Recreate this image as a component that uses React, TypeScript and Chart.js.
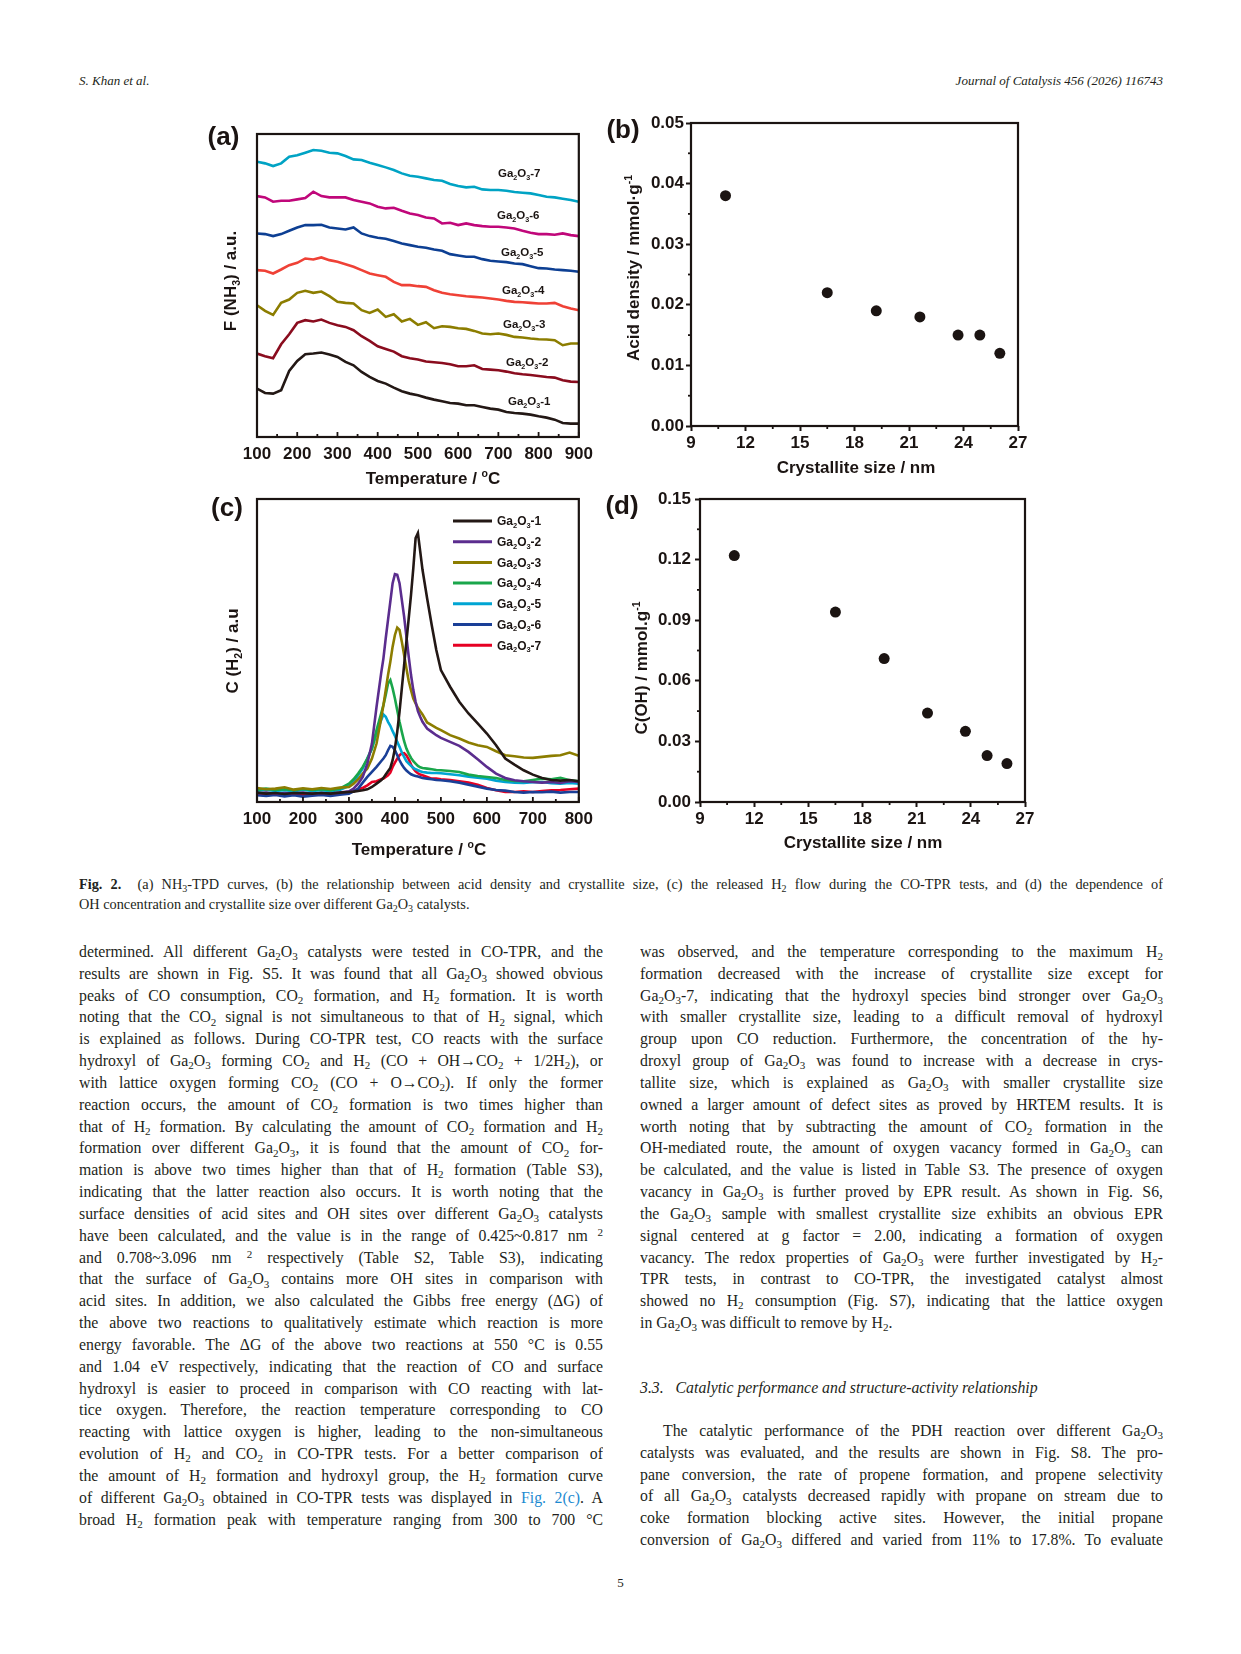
import React, { useEffect, useRef } from 'react';
import { Chart, registerables } from 'chart.js';

Chart.register(...registerables);

// ----------------------------------------------------------------- data ----
const sampleNames = [
  'Ga_{2}O_{3}-1', 'Ga_{2}O_{3}-2', 'Ga_{2}O_{3}-3', 'Ga_{2}O_{3}-4',
  'Ga_{2}O_{3}-5', 'Ga_{2}O_{3}-6', 'Ga_{2}O_{3}-7',
];

// (a) NH3-TPD, temperature (°C) and signal (a.u.)
const tpdTemps = [100, 120, 140, 160, 180, 200, 220, 240, 260, 280, 300, 320, 340, 360, 380, 400, 420, 440, 460, 480, 500,
  520, 540, 560, 580, 600, 620, 640, 660, 680, 700, 720, 740, 760, 780, 800, 820, 840, 860, 880, 900];
const tpdGa1 = [145, 132, 130, 140, 198, 228, 248, 250, 253, 247, 240, 225, 215, 195, 180, 168, 160, 148, 137, 130, 125,
  118, 112, 107, 102, 100, 95, 95, 90, 85, 82, 75, 72, 70, 67, 62, 58, 52, 42, 40, 40];
const tpdGa2 = [250, 242, 236, 278, 308, 342, 350, 346, 352, 342, 335, 330, 320, 302, 288, 272, 264, 256, 242, 236, 232,
  226, 224, 222, 218, 212, 212, 215, 204, 202, 200, 196, 191, 188, 186, 183, 180, 178, 170, 166, 165];
const tpdGa3 = [395, 378, 366, 402, 412, 432, 438, 432, 436, 422, 405, 402, 400, 380, 372, 382, 360, 368, 346, 354, 336,
  344, 326, 332, 330, 326, 324, 318, 310, 308, 310, 306, 300, 298, 295, 293, 292, 290, 275, 280, 280];
const tpdGa4 = [500, 498, 490, 502, 515, 522, 535, 532, 538, 530, 525, 518, 510, 500, 490, 485, 480, 465, 455, 455, 452,
  450, 440, 432, 428, 425, 422, 420, 418, 415, 412, 408, 405, 404, 402, 400, 400, 402, 392, 385, 380];
const tpdGa5 = [610, 608, 602, 608, 618, 628, 635, 635, 636, 628, 625, 622, 628, 610, 602, 597, 594, 587, 580, 575, 570,
  567, 562, 558, 548, 544, 540, 540, 533, 528, 526, 524, 520, 518, 512, 506, 505, 502, 500, 498, 495];
const tpdGa6 = [722, 718, 705, 708, 708, 712, 716, 735, 722, 718, 718, 718, 710, 705, 700, 690, 685, 687, 678, 670, 665,
  658, 655, 640, 642, 635, 640, 635, 632, 630, 630, 628, 625, 618, 612, 608, 608, 606, 610, 605, 602];
const tpdGa7 = [825, 820, 812, 820, 840, 844, 852, 860, 858, 852, 850, 842, 832, 830, 822, 815, 808, 800, 790, 783, 780,
  775, 770, 768, 758, 752, 748, 750, 742, 740, 740, 738, 734, 732, 730, 725, 720, 718, 714, 710, 705];

// (b) / (d) crystallite size (nm), acid density and OH concentration (mmol/g)
const crystalliteSize = [10.9, 16.5, 19.2, 21.6, 23.7, 24.9, 26.0];
const acidDensity = [0.038, 0.022, 0.019, 0.018, 0.015, 0.015, 0.012];
const ohConcentration = [0.122, 0.094, 0.071, 0.044, 0.035, 0.023, 0.019];

// (c) CO-TPR H2 signal, temperature (°C) and signal (a.u.)
const tprTemps = [100, 120, 140, 160, 180, 200, 220, 240, 260, 280, 300, 310, 320, 330, 340, 350, 360, 370, 375, 380,
  385, 390, 395, 400, 405, 410, 415, 420, 425, 430, 435, 440, 445, 450, 455, 460, 470, 480, 490, 500, 520, 540, 560,
  580, 600, 620, 640, 660, 680, 700, 720, 740, 760, 780, 800];
const tprGa1 = [28, 25, 27, 24, 27, 26, 25, 27, 25, 28, 30, 31, 33, 35, 38, 45, 55, 65, 72, 82, 92, 102, 125, 160, 210,
  270, 340, 410, 480, 550, 620, 700, 790, 805, 750, 695, 610, 530, 455, 395, 345, 300, 265, 235, 205, 170, 130, 112, 95,
  82, 72, 66, 64, 66, 62];
const tprGa2 = [25, 28, 24, 27, 25, 28, 24, 27, 25, 28, 32, 40, 55, 75, 115, 175, 285, 385, 430, 490, 545, 600, 655,
  682, 680, 655, 605, 555, 495, 435, 380, 335, 300, 272, 255, 240, 220, 210, 200, 192, 180, 168, 150, 128, 105, 85, 72,
  65, 62, 60, 58, 60, 57, 62, 60];
const tprGa3 = [42, 38, 40, 44, 37, 41, 38, 42, 39, 43, 45, 55, 68, 85, 100, 130, 175, 250, 290, 335, 380, 420, 465,
  500, 522, 515, 480, 440, 400, 362, 335, 310, 295, 282, 272, 262, 238, 230, 222, 215, 200, 190, 178, 170, 165, 152, 140,
  137, 133, 132, 135, 138, 140, 148, 138];
const tprGa4 = [37, 40, 36, 38, 35, 39, 36, 38, 35, 40, 55, 68, 85, 105, 130, 160, 215, 265, 290, 320, 355, 365, 340,
  310, 275, 240, 210, 182, 160, 145, 132, 122, 115, 108, 104, 102, 100, 98, 96, 95, 93, 90, 82, 78, 75, 72, 66, 63, 62,
  66, 70, 68, 72, 65, 62];
const tprGa5 = [34, 36, 33, 35, 32, 36, 33, 35, 32, 36, 48, 60, 80, 100, 130, 160, 205, 245, 262, 255, 240, 228, 212,
  198, 180, 165, 148, 135, 122, 115, 108, 102, 98, 95, 92, 90, 88, 87, 87, 86, 83, 80, 76, 73, 70, 64, 60, 58, 57, 59,
  60, 56, 55, 57, 55];
const tprGa6 = [20, 18, 21, 17, 20, 16, 19, 21, 18, 22, 25, 32, 40, 58, 75, 90, 105, 122, 130, 140, 155, 168, 165, 155,
  140, 125, 112, 102, 94, 88, 83, 80, 78, 76, 74, 72, 70, 68, 66, 65, 62, 58, 52, 46, 40, 36, 34, 30, 28, 30, 29, 31, 28,
  30, 30];
const tprGa7 = [24, 22, 25, 21, 24, 22, 25, 22, 26, 24, 28, 32, 38, 42, 50, 60, 62, 68, 70, 75, 80, 88, 105, 118, 130,
  140, 145, 146, 140, 128, 112, 100, 92, 86, 82, 80, 75, 70, 70, 68, 66, 62, 58, 52, 42, 35, 30, 30, 32, 30, 33, 35, 36,
  38, 40];

// --------------------------------------------------------------- styles ----
const FONT = '"Liberation Sans", Arial, sans-serif';
const SERIF = '"Liberation Serif", "Times New Roman", serif';
const INK = '#1b1412';
const tpdColors = ['#231815', '#8a0c1e', '#8c7d00', '#ef4136', '#0d3f93', '#c0077a', '#00a3c4'];
const tprColors = ['#231815', '#5b2d8e', '#8c7d00', '#1aa64b', '#00a5d3', '#1a3f97', '#e60023'];

// ---------------------------------------------------------- rich canvas ----
function parseRich(s: string) {
  const segs: { t: string; k: number }[] = [];
  let i = 0;
  let buf = '';
  while (i < s.length) {
    const c = s[i];
    if ((c === '_' || c === '^') && s[i + 1] === '{') {
      if (buf) { segs.push({ t: buf, k: 0 }); buf = ''; }
      const j = s.indexOf('}', i);
      segs.push({ t: s.slice(i + 2, j), k: c === '_' ? 1 : 2 });
      i = j + 1;
    } else { buf += c; i++; }
  }
  if (buf) segs.push({ t: buf, k: 0 });
  return segs;
}

function drawRich(ctx: CanvasRenderingContext2D, s: string, x: number, y: number, size: number,
  align: 'left' | 'center' | 'right', rot = 0) {
  const segs = parseRich(s);
  const small = size * 0.62;
  const fontFor = (k: number) => `bold ${k ? small : size}px ${FONT}`;
  let w = 0;
  for (const g of segs) { ctx.font = fontFor(g.k); w += ctx.measureText(g.t).width; }
  ctx.save();
  ctx.translate(x, y);
  if (rot) ctx.rotate(rot);
  let cx = align === 'center' ? -w / 2 : align === 'right' ? -w : 0;
  ctx.textAlign = 'left';
  ctx.textBaseline = 'alphabetic';
  ctx.fillStyle = INK;
  const base = size * 0.36;
  for (const g of segs) {
    ctx.font = fontFor(g.k);
    const dy = g.k === 1 ? size * 0.22 : g.k === 2 ? -size * 0.42 : 0;
    ctx.fillText(g.t, cx, base + dy);
    cx += ctx.measureText(g.t).width;
  }
  ctx.restore();
}

type Box = { x: number; y: number; w: number; h: number };
type TickSpec = { axis: 'x' | 'y'; min: number; max: number; step: number; inward: boolean };
type DecorSpec = {
  box: Box;
  letter: [string, number, number];
  xTitle: [string, number, number];
  yTitle: [string, number, number];
  ticks: TickSpec[];
  extra?: (ctx: CanvasRenderingContext2D, chart: any, px: (v: number) => number, py: (v: number) => number) => void;
};

function decorPlugin(d: DecorSpec) {
  return {
    id: 'decor',
    afterDraw(chart: any) {
      const ctx: CanvasRenderingContext2D = chart.ctx;
      const ca = chart.chartArea;
      const px = (v: number) => v - d.box.x;
      const py = (v: number) => v - d.box.y;
      ctx.save();
      ctx.strokeStyle = INK;
      ctx.lineWidth = 2.2;
      ctx.strokeRect(ca.left, ca.top, ca.right - ca.left, ca.bottom - ca.top);
      ctx.lineWidth = 1.8;
      for (const t of d.ticks) {
        const sc = chart.scales[t.axis];
        const n = Math.round((t.max - t.min) / t.step);
        for (let i = 0; i <= n * 2; i++) {
          const major = i % 2 === 0;
          if (!t.inward && major) continue;
          const v = t.min + (t.step * i) / 2;
          const len = major ? 5 : 3;
          const p = sc.getPixelForValue(v);
          ctx.beginPath();
          if (t.axis === 'x') {
            ctx.moveTo(p, ca.bottom);
            ctx.lineTo(p, t.inward ? ca.bottom - len : ca.bottom + len);
          } else {
            ctx.moveTo(ca.left, p);
            ctx.lineTo(t.inward ? ca.left + len : ca.left - len, p);
          }
          ctx.stroke();
        }
      }
      drawRich(ctx, d.letter[0], px(d.letter[1]), py(d.letter[2]), 26, 'center');
      drawRich(ctx, d.xTitle[0], px(d.xTitle[1]), py(d.xTitle[2]), 17, 'center');
      drawRich(ctx, d.yTitle[0], px(d.yTitle[1]), py(d.yTitle[2]), 17, 'center', -Math.PI / 2);
      if (d.extra) d.extra(ctx, chart, px, py);
      ctx.restore();
    },
  };
}

const tickFont = { family: FONT, size: 17, weight: 'bold' as const };

function lineSeries(xs: number[], series: number[][], colors: string[]) {
  return series.map((ys, i) => ({
    label: sampleNames[i],
    data: xs.map((x, j) => ({ x, y: ys[j] })),
    borderColor: colors[i],
    borderWidth: 2.6,
    pointRadius: 0,
    tension: 0,
    fill: false,
  }));
}

function scatterSeries(ys: number[]) {
  return [{
    data: crystalliteSize.map((x, i) => ({ x, y: ys[i] })),
    backgroundColor: INK,
    borderColor: INK,
    borderWidth: 0,
    pointRadius: 5.5,
  }];
}

const baseOptions = {
  responsive: false,
  animation: false as const,
  events: [] as any[],
  plugins: { legend: { display: false }, tooltip: { enabled: false } },
};

// ----------------------------------------------------------- panels ----
const boxA: Box = { x: 180, y: 105, w: 420, h: 390 };
const boxB: Box = { x: 600, y: 100, w: 440, h: 390 };
const boxC: Box = { x: 180, y: 480, w: 420, h: 385 };
const boxD: Box = { x: 600, y: 480, w: 440, h: 385 };

const labelA: [number, number][] = [[508, 401], [506, 362], [503, 324], [502, 290], [501, 252], [497, 215], [498, 173]];

function configA() {
  return {
    type: 'line',
    data: { datasets: lineSeries(tpdTemps, [tpdGa1, tpdGa2, tpdGa3, tpdGa4, tpdGa5, tpdGa6, tpdGa7], tpdColors) },
    options: {
      ...baseOptions,
      layout: { padding: { left: 77, top: 29, right: 19, bottom: 0 } },
      scales: {
        x: {
          type: 'linear', min: 100, max: 900,
          ticks: { stepSize: 100, font: tickFont, color: INK, padding: 7, maxRotation: 0, autoSkip: false },
          grid: { display: false, drawTicks: false }, border: { display: false },
          afterFit: (s: any) => { s.height = 58; },
        },
        y: { type: 'linear', display: false, min: 0, max: 908 },
      },
    },
    plugins: [decorPlugin({
      box: boxA,
      letter: ['(a)', 223.5, 135.5],
      xTitle: ['Temperature / ^{o}C', 433, 478],
      yTitle: ['F (NH_{3}) / a.u.', 230, 281],
      ticks: [{ axis: 'x', min: 100, max: 900, step: 100, inward: true }],
      extra: (ctx, _c, px, py) => {
        labelA.forEach(([x, y], i) => drawRich(ctx, sampleNames[i], px(x), py(y), 11.5, 'left'));
      },
    })],
  };
}

function configB() {
  return {
    type: 'scatter',
    data: { datasets: scatterSeries(acidDensity) },
    options: {
      ...baseOptions,
      layout: { padding: { left: 0, top: 23, right: 22, bottom: 0 } },
      scales: {
        x: {
          type: 'linear', min: 9, max: 27,
          ticks: { stepSize: 3, font: tickFont, color: INK, padding: 2, maxRotation: 0, autoSkip: false },
          grid: { display: true, drawOnChartArea: false, drawTicks: true, tickLength: 5, tickWidth: 2, color: INK, tickColor: INK },
          border: { display: false },
          afterFit: (s: any) => { s.height = 64; },
        },
        y: {
          type: 'linear', min: 0, max: 0.05,
          ticks: { stepSize: 0.01, font: tickFont, color: INK, padding: 2, callback: (v: any) => Number(v).toFixed(2) },
          grid: { display: true, drawOnChartArea: false, drawTicks: true, tickLength: 5, tickWidth: 2, color: INK, tickColor: INK },
          border: { display: false },
          afterFit: (s: any) => { s.width = 91; },
        },
      },
    },
    plugins: [decorPlugin({
      box: boxB,
      letter: ['(b)', 623, 129],
      xTitle: ['Crystallite size / nm', 856, 467],
      yTitle: ['Acid density / mmol\u00b7g^{-1}', 633, 268],
      ticks: [
        { axis: 'x', min: 9, max: 27, step: 3, inward: false },
        { axis: 'y', min: 0, max: 0.05, step: 0.01, inward: false },
      ],
    })],
  };
}

function configC() {
  return {
    type: 'line',
    data: { datasets: lineSeries(tprTemps, [tprGa1, tprGa2, tprGa3, tprGa4, tprGa5, tprGa6, tprGa7], tprColors) },
    options: {
      ...baseOptions,
      layout: { padding: { left: 77, top: 19, right: 19, bottom: 0 } },
      scales: {
        x: {
          type: 'linear', min: 100, max: 800,
          ticks: { stepSize: 100, font: tickFont, color: INK, padding: 7, maxRotation: 0, autoSkip: false },
          grid: { display: false, drawTicks: false }, border: { display: false },
          afterFit: (s: any) => { s.height = 63; },
        },
        y: { type: 'linear', display: false, min: 0, max: 907 },
      },
    },
    plugins: [decorPlugin({
      box: boxC,
      letter: ['(c)', 227, 507],
      xTitle: ['Temperature / ^{o}C', 419, 849],
      yTitle: ['C (H_{2}) / a.u', 232, 651],
      ticks: [{ axis: 'x', min: 100, max: 800, step: 100, inward: true }],
      extra: (ctx, _c, px, py) => {
        sampleNames.forEach((name, i) => {
          const y = 521 + i * 20.7;
          ctx.strokeStyle = tprColors[i];
          ctx.lineWidth = 3;
          ctx.beginPath();
          ctx.moveTo(px(453), py(y));
          ctx.lineTo(px(492), py(y));
          ctx.stroke();
          drawRich(ctx, name, px(497), py(y), 12, 'left');
        });
      },
    })],
  };
}

function configD() {
  return {
    type: 'scatter',
    data: { datasets: scatterSeries(ohConcentration) },
    options: {
      ...baseOptions,
      layout: { padding: { left: 0, top: 19, right: 15, bottom: 0 } },
      scales: {
        x: {
          type: 'linear', min: 9, max: 27,
          ticks: { stepSize: 3, font: tickFont, color: INK, padding: 2, maxRotation: 0, autoSkip: false },
          grid: { display: true, drawOnChartArea: false, drawTicks: true, tickLength: 5, tickWidth: 2, color: INK, tickColor: INK },
          border: { display: false },
          afterFit: (s: any) => { s.height = 63; },
        },
        y: {
          type: 'linear', min: 0, max: 0.15,
          ticks: { stepSize: 0.03, font: tickFont, color: INK, padding: 4, callback: (v: any) => Number(v).toFixed(2) },
          grid: { display: true, drawOnChartArea: false, drawTicks: true, tickLength: 5, tickWidth: 2, color: INK, tickColor: INK },
          border: { display: false },
          afterFit: (s: any) => { s.width = 100; },
        },
      },
    },
    plugins: [decorPlugin({
      box: boxD,
      letter: ['(d)', 622, 505],
      xTitle: ['Crystallite size / nm', 863, 842],
      yTitle: ['C(OH) / mmol.g^{-1}', 641, 668],
      ticks: [
        { axis: 'x', min: 9, max: 27, step: 3, inward: false },
        { axis: 'y', min: 0, max: 0.15, step: 0.03, inward: false },
      ],
    })],
  };
}

function ChartPanel({ box, build }: { box: Box; build: () => any }) {
  const ref = useRef<HTMLCanvasElement>(null);
  useEffect(() => {
    const chart = new Chart(ref.current as HTMLCanvasElement, build());
    return () => chart.destroy();
  }, []);
  return (
    <canvas ref={ref} width={box.w} height={box.h}
      style={{ position: 'absolute', left: box.x, top: box.y, width: box.w, height: box.h }} />
  );
}

// ------------------------------------------------------------- text ----
function Rich({ s }: { s: string }) {
  const parts = s.split(/(_\{[^}]*\}|\^\{[^}]*\}|\[\[[^\]]*\]\]|\*\*[^*]*\*\*)/);
  return (
    <>
      {parts.map((p, i) => {
        if (p.startsWith('_{')) return <span key={i} style={{ fontSize: '0.7em', position: 'relative', top: '0.28em' }}>{p.slice(2, -1)}</span>;
        if (p.startsWith('^{')) return <span key={i} style={{ fontSize: '0.7em', position: 'relative', top: '-0.45em' }}>{p.slice(2, -1)}</span>;
        if (p.startsWith('[[')) return <span key={i} style={{ color: '#1c8ad1' }}>{p.slice(2, -2)}</span>;
        if (p.startsWith('**')) return <b key={i}>{p.slice(2, -2)}</b>;
        return <React.Fragment key={i}>{p}</React.Fragment>;
      })}
    </>
  );
}

const leftLines = [
  'determined. All different Ga_{2}O_{3} catalysts were tested in CO-TPR, and the',
  'results are shown in Fig. S5. It was found that all Ga_{2}O_{3} showed obvious',
  'peaks of CO consumption, CO_{2} formation, and H_{2} formation. It is worth',
  'noting that the CO_{2} signal is not simultaneous to that of H_{2} signal, which',
  'is explained as follows. During CO-TPR test, CO reacts with the surface',
  'hydroxyl of Ga_{2}O_{3} forming CO_{2} and H_{2} (CO + OH\u2192CO_{2} + 1/2H_{2}), or',
  'with lattice oxygen forming CO_{2} (CO + O\u2192CO_{2}). If only the former',
  'reaction occurs, the amount of CO_{2} formation is two times higher than',
  'that of H_{2} formation. By calculating the amount of CO_{2} formation and H_{2}',
  'formation over different Ga_{2}O_{3}, it is found that the amount of CO_{2} for-',
  'mation is above two times higher than that of H_{2} formation (Table S3),',
  'indicating that the latter reaction also occurs. It is worth noting that the',
  'surface densities of acid sites and OH sites over different Ga_{2}O_{3} catalysts',
  'have been calculated, and the value is in the range of 0.425~0.817 nm ^{2}',
  'and 0.708~3.096 nm ^{2} respectively (Table S2, Table S3), indicating',
  'that the surface of Ga_{2}O_{3} contains more OH sites in comparison with',
  'acid sites. In addition, we also calculated the Gibbs free energy (\u0394G) of',
  'the above two reactions to qualitatively estimate which reaction is more',
  'energy favorable. The \u0394G of the above two reactions at 550 \u00b0C is 0.55',
  'and 1.04 eV respectively, indicating that the reaction of CO and surface',
  'hydroxyl is easier to proceed in comparison with CO reacting with lat-',
  'tice oxygen. Therefore, the reaction temperature corresponding to CO',
  'reacting with lattice oxygen is higher, leading to the non-simultaneous',
  'evolution of H_{2} and CO_{2} in CO-TPR tests. For a better comparison of',
  'the amount of H_{2} formation and hydroxyl group, the H_{2} formation curve',
  'of different Ga_{2}O_{3} obtained in CO-TPR tests was displayed in [[Fig. 2(c)]]. A',
  'broad H_{2} formation peak with temperature ranging from 300 to 700 \u00b0C',
];

const rightLines = [
  'was observed, and the temperature corresponding to the maximum H_{2}',
  'formation decreased with the increase of crystallite size except for',
  'Ga_{2}O_{3}-7, indicating that the hydroxyl species bind stronger over Ga_{2}O_{3}',
  'with smaller crystallite size, leading to a difficult removal of hydroxyl',
  'group upon CO reduction. Furthermore, the concentration of the hy-',
  'droxyl group of Ga_{2}O_{3} was found to increase with a decrease in crys-',
  'tallite size, which is explained as Ga_{2}O_{3} with smaller crystallite size',
  'owned a larger amount of defect sites as proved by HRTEM results. It is',
  'worth noting that by subtracting the amount of CO_{2} formation in the',
  'OH-mediated route, the amount of oxygen vacancy formed in Ga_{2}O_{3} can',
  'be calculated, and the value is listed in Table S3. The presence of oxygen',
  'vacancy in Ga_{2}O_{3} is further proved by EPR result. As shown in Fig. S6,',
  'the Ga_{2}O_{3} sample with smallest crystallite size exhibits an obvious EPR',
  'signal centered at g factor = 2.00, indicating a formation of oxygen',
  'vacancy. The redox properties of Ga_{2}O_{3} were further investigated by H_{2}-',
  'TPR tests, in contrast to CO-TPR, the investigated catalyst almost',
  'showed no H_{2} consumption (Fig. S7), indicating that the lattice oxygen',
  'in Ga_{2}O_{3} was difficult to remove by H_{2}.',
];

const rightLines2 = [
  'The catalytic performance of the PDH reaction over different Ga_{2}O_{3}',
  'catalysts was evaluated, and the results are shown in Fig. S8. The pro-',
  'pane conversion, the rate of propene formation, and propene selectivity',
  'of all Ga_{2}O_{3} catalysts decreased rapidly with propane on stream due to',
  'coke formation blocking active sites. However, the initial propane',
  'conversion of Ga_{2}O_{3} differed and varied from 11% to 17.8%. To evaluate',
];

const captionLines = [
  '**Fig. 2.**\u00a0 (a) NH_{3}-TPD curves, (b) the relationship between acid density and crystallite size, (c) the released H_{2} flow during the CO-TPR tests, and (d) the dependence of',
  'OH concentration and crystallite size over different Ga_{2}O_{3} catalysts.',
];

const LH = 21.84;

function TextLine({ s, justify, indent = 0, lh = LH }: { s: string; justify: boolean; indent?: number; lh?: number }) {
  return (
    <div style={{
      height: lh, lineHeight: `${lh}px`, overflow: 'hidden', paddingLeft: indent,
      textAlign: justify ? 'justify' : 'left', textAlignLast: justify ? 'justify' : 'left',
    } as React.CSSProperties}>
      <Rich s={s} />
    </div>
  );
}

export default function App() {
  const bodyStyle: React.CSSProperties = {
    position: 'absolute', fontFamily: SERIF, fontSize: 15.8, color: '#231f20',
  };
  return (
    <div style={{ position: 'absolute', left: 0, top: 0, width: 1241, height: 1654, background: '#ffffff', overflow: 'hidden' }}>
      <div style={{ position: 'absolute', left: 79, top: 73, fontFamily: SERIF, fontStyle: 'italic', fontSize: 13, lineHeight: '16px', color: '#231f20' }}>
        S. Khan et al.
      </div>
      <div style={{ position: 'absolute', right: 1241 - 1163, top: 73, fontFamily: SERIF, fontStyle: 'italic', fontSize: 13, lineHeight: '16px', color: '#231f20' }}>
        Journal of Catalysis 456 (2026) 116743
      </div>

      <ChartPanel box={boxA} build={configA} />
      <ChartPanel box={boxB} build={configB} />
      <ChartPanel box={boxC} build={configC} />
      <ChartPanel box={boxD} build={configD} />

      <div style={{ ...bodyStyle, left: 79, top: 874, width: 1084, fontSize: 14.3 }}>
        <TextLine s={captionLines[0]} justify lh={20} />
        <TextLine s={captionLines[1]} justify={false} lh={20} />
      </div>

      <div style={{ ...bodyStyle, left: 79, top: 941, width: 524 }}>
        {leftLines.map((s, i) => <TextLine key={i} s={s} justify />)}
      </div>

      <div style={{ ...bodyStyle, left: 640, top: 941, width: 523 }}>
        {rightLines.map((s, i) => <TextLine key={i} s={s} justify={i < rightLines.length - 1} />)}
      </div>

      <div style={{ ...bodyStyle, left: 640, top: 1377, width: 523, fontStyle: 'italic', lineHeight: `${LH}px` }}>
        3.3.{'\u00a0\u00a0\u00a0'}Catalytic performance and structure-activity relationship
      </div>

      <div style={{ ...bodyStyle, left: 640, top: 1420, width: 523 }}>
        {rightLines2.map((s, i) => <TextLine key={i} s={s} justify indent={i === 0 ? 23 : 0} />)}
      </div>

      <div style={{ position: 'absolute', left: 600, width: 41, top: 1574, textAlign: 'center', fontFamily: SERIF, fontSize: 13, lineHeight: '18px', color: '#231f20' }}>
        5
      </div>
    </div>
  );
}
